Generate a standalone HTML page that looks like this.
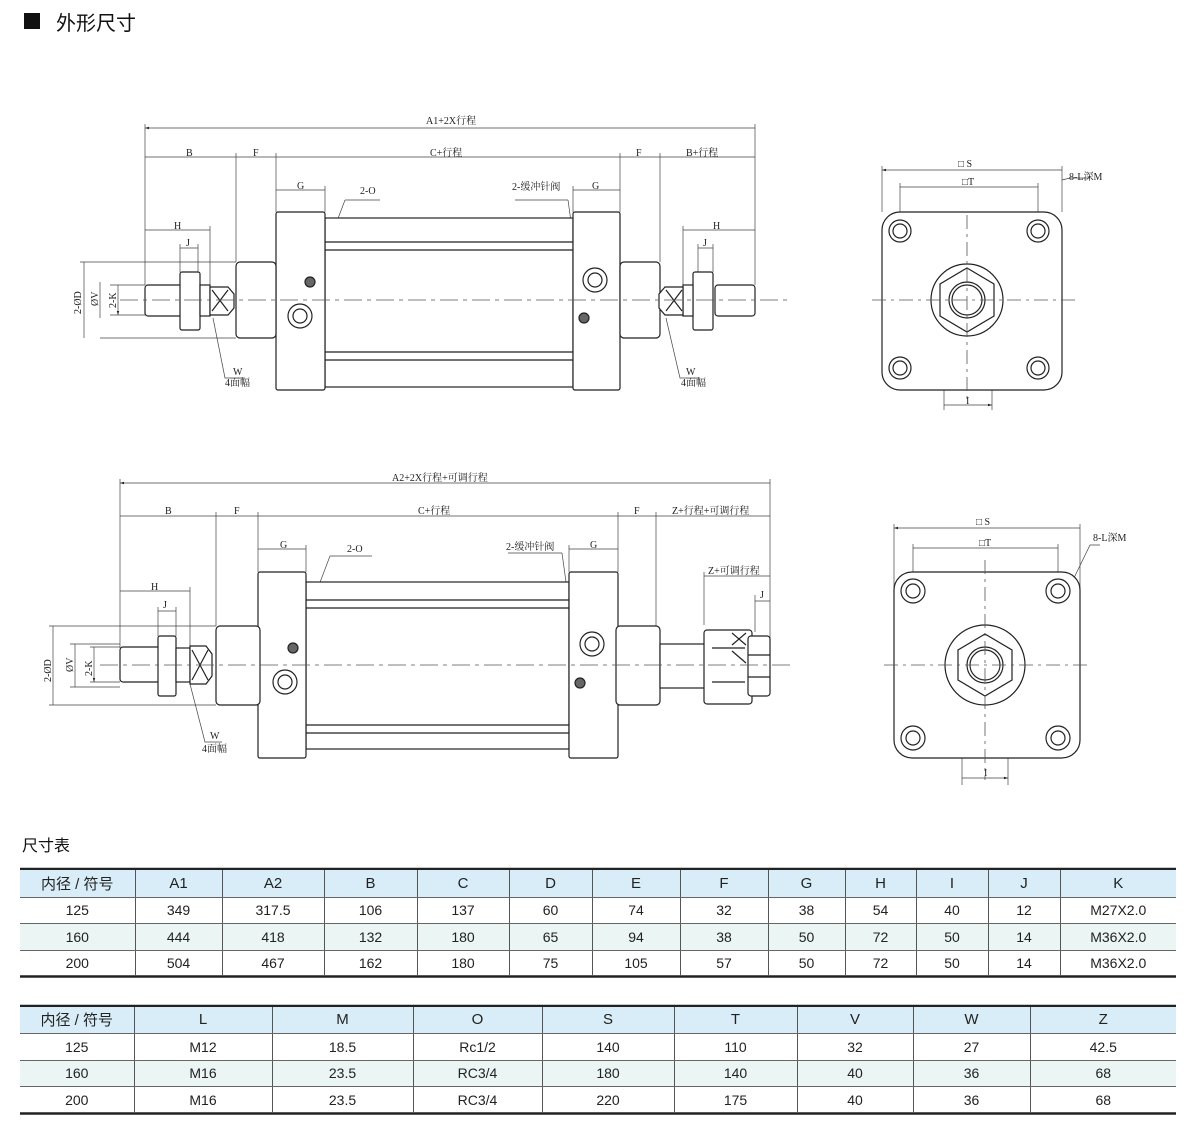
<!DOCTYPE html>
<html><head><meta charset="utf-8"><style>
body{margin:0;background:#fff;}
#wrap{position:relative;width:1200px;height:1148px;overflow:hidden;font-family:"Liberation Sans","Noto Sans CJK SC",sans-serif;}
svg{position:absolute;left:0;top:0;}
.t{position:absolute;border-collapse:collapse;table-layout:fixed;font-size:14px;color:#222;}
.t td{border-left:1px solid #555;border-bottom:1px solid #666;text-align:center;padding:0;}
.t td:first-child{border-left:none;}
.t tr.h td{background:#d8edf8;font-size:15px;}
.t tr.a td{background:#eaf5f4;}
</style></head><body><div id="wrap">
<svg width="1200" height="1148" viewBox="0 0 1200 1148" font-family="Liberation Serif,Noto Serif CJK SC,serif" font-size="10" fill="none" stroke="#222" stroke-width="1">
<defs>
<marker id="a" viewBox="0 0 10 10" refX="10" refY="5" markerWidth="6" markerHeight="6" orient="auto-start-reverse"><path d="M0,2 L10,5 L0,8z" fill="#222" stroke="none"/></marker>
</defs>
<rect x="24" y="13" width="16" height="16" fill="#111" stroke="none"/>
<text x="56" y="30" font-family="Liberation Sans,Noto Sans CJK SC,sans-serif" font-size="20" fill="#111" stroke="none">外形尺寸</text>
<text x="22" y="851" font-family="Liberation Sans,Noto Sans CJK SC,sans-serif" font-size="16" fill="#111" stroke="none">尺寸表</text>

<g stroke-width="0.7" stroke="#444">
<path d="M145,124V285 M755,124V285 M236,153V262 M276,153V212 M620,153V212 M660,153V262 M325,186V212 M573,186V212 M210,226V285 M683,226V285 M180,244V272 M198,244V272 M698,244V272 M713,244V272 M80,262H236 M100,338H236 M110,285H145 M110,315H145"/>
<g marker-start="url(#a)" marker-end="url(#a)">
<path d="M145,128H755 M145,157H236 M236,157H276 M276,157H620 M620,157H660 M660,157H755 M276,190H325 M573,190H620 M145,230H210 M683,230H755 M84,262V338 M100,282V318 M118,285V315"/>
</g>
<path d="M180,248H198 M698,248H713"/>
<path d="M345,200H380 M345,200L302,314 M515,200H568 M568,200L584,316 M213,318L225,378H245 M666,318L680,378H700"/>
</g>
<g fill="#222" stroke="none">
<text x="426" y="124">A1+2X行程</text>
<text x="186" y="156">B</text><text x="253" y="156">F</text><text x="430" y="156">C+行程</text><text x="636" y="156">F</text><text x="686" y="156">B+行程</text>
<text x="297" y="189">G</text><text x="592" y="189">G</text>
<text x="174" y="229">H</text><text x="713" y="229">H</text>
<text x="186" y="246">J</text><text x="703" y="246">J</text>
<text x="360" y="194">2-O</text><text x="512" y="190">2-缓冲针阀</text>
<text x="233" y="375">W</text><text x="225" y="386">4面幅</text>
<text x="686" y="375">W</text><text x="681" y="386">4面幅</text>
<text transform="translate(81,314) rotate(-90)">2-ØD</text>
<text transform="translate(98,306) rotate(-90)">ØV</text>
<text transform="translate(116,308) rotate(-90)">2-K</text>
</g>
<g stroke="#222" stroke-width="1.2" fill="#fff">
<rect x="325" y="218" width="248" height="169"/>
<path d="M325,242H573 M325,250H573 M325,352H573 M325,360H573" fill="none"/>
<rect x="276" y="212" width="49" height="178" rx="2"/>
<rect x="573" y="212" width="47" height="178" rx="2"/>
<rect x="236" y="262" width="40" height="76" rx="4"/>
<rect x="620" y="262" width="40" height="76" rx="4"/>
<rect x="145" y="285" width="38" height="31" rx="3"/>
<rect x="180" y="272" width="20" height="58" rx="2"/>
<rect x="200" y="285" width="10" height="31"/>
<path d="M210,287H228L234,294V308L228,315H210Z"/>
<path d="M212,290L228,311 M228,290L212,311" fill="none"/>
<rect x="715" y="285" width="40" height="31" rx="3"/>
<rect x="693" y="272" width="20" height="58" rx="2"/>
<rect x="683" y="285" width="10" height="31"/>
<path d="M683,287H665L659,294V308L665,315H683Z"/>
<path d="M666,290L682,311 M682,290L666,311" fill="none"/>
<circle cx="300" cy="316" r="12"/><circle cx="300" cy="316" r="7"/>
<circle cx="595" cy="280" r="12"/><circle cx="595" cy="280" r="7"/>
<circle cx="310" cy="282" r="5" fill="#666"/><circle cx="584" cy="318" r="5" fill="#666"/>
</g>
<path d="M120,300H790" stroke="#555" stroke-width="0.8" stroke-dasharray="18,5,4,5"/>

<g stroke-width="0.7" stroke="#444">
<path d="M882,166V212 M1062,166V212 M900,183V222 M1038,183V222 M944,320V410 M992,320V410 M1062,180L1070,178H1090"/>
<g marker-start="url(#a)" marker-end="url(#a)"><path d="M882,170H1062 M900,187H1038 M944,405H992"/></g>
</g>
<g fill="#222" stroke="none"><text x="958" y="167">□ S</text><text x="962" y="185">□T</text><text x="1069" y="180">8-L深M</text><text x="966" y="404">I</text></g>
<g stroke="#222" stroke-width="1.2" fill="#fff">
<rect x="882" y="212" width="180" height="178" rx="18"/>
<circle cx="967" cy="300" r="36"/>
<path d="M967,268L994,284V316L967,332L940,316V284Z"/>
<circle cx="967" cy="300" r="18"/><circle cx="967" cy="300" r="15"/>
<g><circle cx="900" cy="231" r="11"/><circle cx="900" cy="231" r="7"/><circle cx="1038" cy="231" r="11"/><circle cx="1038" cy="231" r="7"/><circle cx="900" cy="368" r="11"/><circle cx="900" cy="368" r="7"/><circle cx="1038" cy="368" r="11"/><circle cx="1038" cy="368" r="7"/></g>
</g>
<path d="M872,300H1076 M967,215V400" stroke="#555" stroke-width="0.8" stroke-dasharray="14,5,3,5"/>

<g stroke-width="0.7" stroke="#444">
<path d="M120,479V648 M770,479V640 M216,512V626 M258,512V572 M618,512V572 M656,512V626 M306,545V572 M569,545V572 M190,587V646 M158,607V636 M176,607V636 M704,572V625 M755,595V632 M49,626H216 M70,644H120 M90,647H120 M49,705H216 M70,687H120 M90,682H120"/>
<g marker-start="url(#a)" marker-end="url(#a)">
<path d="M120,483H770 M120,516H216 M216,516H258 M258,516H618 M618,516H656 M656,516H770 M258,549H306 M569,549H618 M120,591H190 M704,576H770 M53,626V705 M75,644V687 M94,647V682"/>
</g>
<path d="M158,611H176 M755,601H770"/>
<path d="M330,556H372 M330,556L283,680 M508,553H562 M562,553L580,683 M190,684L205,742H222"/>
</g>
<g fill="#222" stroke="none">
<text x="392" y="481">A2+2X行程+可调行程</text>
<text x="165" y="514">B</text><text x="234" y="514">F</text><text x="418" y="514">C+行程</text><text x="634" y="514">F</text><text x="672" y="514">Z+行程+可调行程</text>
<text x="280" y="548">G</text><text x="590" y="548">G</text>
<text x="151" y="590">H</text><text x="163" y="608">J</text><text x="760" y="598">J</text>
<text x="708" y="574">Z+可调行程</text>
<text x="347" y="552">2-O</text><text x="506" y="550">2-缓冲针阀</text>
<text x="210" y="739">W</text><text x="202" y="752">4面幅</text>
<text transform="translate(51,682) rotate(-90)">2-ØD</text>
<text transform="translate(73,672) rotate(-90)">ØV</text>
<text transform="translate(92,676) rotate(-90)">2-K</text>
</g>
<g stroke="#222" stroke-width="1.2" fill="#fff">
<rect x="306" y="582" width="263" height="167"/>
<path d="M306,600H569 M306,608H569 M306,725H569 M306,733H569" fill="none"/>
<rect x="258" y="572" width="48" height="186" rx="2"/>
<rect x="569" y="572" width="49" height="186" rx="2"/>
<rect x="216" y="626" width="44" height="79" rx="4"/>
<rect x="616" y="626" width="44" height="79" rx="4"/>
<rect x="660" y="644" width="45" height="44"/>
<rect x="704" y="630" width="48" height="74" rx="3"/>
<rect x="748" y="636" width="22" height="60" rx="3"/>
<path d="M748,655H770 M748,677H770 M712,648H745 M712,682H745" fill="none"/>
<path d="M732,633L746,645 M746,633L732,645 M732,651L746,663" fill="none"/>
<rect x="120" y="647" width="40" height="35" rx="3"/>
<rect x="158" y="636" width="18" height="60" rx="2"/>
<rect x="176" y="648" width="14" height="34"/>
<path d="M190,646H206L212,654V676L206,684H190Z"/>
<path d="M192,650L208,680 M208,650L192,680" fill="none"/>
<circle cx="285" cy="682" r="12"/><circle cx="285" cy="682" r="7"/>
<circle cx="592" cy="644" r="12"/><circle cx="592" cy="644" r="7"/>
<circle cx="293" cy="648" r="5" fill="#666"/><circle cx="580" cy="683" r="5" fill="#666"/>
</g>
<path d="M100,665H790" stroke="#555" stroke-width="0.8" stroke-dasharray="18,5,4,5"/>

<g stroke-width="0.7" stroke="#444">
<path d="M894,524V590 M1080,524V590 M913,544V580 M1058,544V580 M962,690V785 M1008,690V785 M1072,582L1090,545H1100"/>
<g marker-start="url(#a)" marker-end="url(#a)"><path d="M894,528H1080 M913,548H1058 M962,778H1008"/></g>
</g>
<g fill="#222" stroke="none"><text x="976" y="525">□ S</text><text x="979" y="546">□T</text><text x="1093" y="541">8-L深M</text><text x="984" y="776">I</text></g>
<g stroke="#222" stroke-width="1.2" fill="#fff">
<rect x="894" y="572" width="186" height="186" rx="18"/>
<circle cx="985" cy="665" r="40"/>
<path d="M985,634L1012,650V680L985,696L958,680V650Z"/>
<circle cx="985" cy="665" r="18"/><circle cx="985" cy="665" r="15"/>
<circle cx="913" cy="591" r="12"/><circle cx="913" cy="591" r="7"/><circle cx="1058" cy="591" r="12"/><circle cx="1058" cy="591" r="7"/><circle cx="913" cy="738" r="12"/><circle cx="913" cy="738" r="7"/><circle cx="1058" cy="738" r="12"/><circle cx="1058" cy="738" r="7"/>
</g>
<path d="M884,665H1090 M985,560V780" stroke="#555" stroke-width="0.8" stroke-dasharray="14,5,3,5"/>
<path d="M20,869H1176 M20,976.5H1176 M20,1006H1176 M20,1113.5H1176" stroke="#222" stroke-width="2.5"/>
</svg>

<table class="t" style="left:20px;top:870px;width:1156px;">
<colgroup><col style="width:115px"><col style="width:87px"><col style="width:102px"><col style="width:93px"><col style="width:92px"><col style="width:83px"><col style="width:88px"><col style="width:88px"><col style="width:77px"><col style="width:71px"><col style="width:72px"><col style="width:72px"><col style="width:116px"></colgroup>
<tr class="h" style="height:27px"><td>内径 / 符号</td><td>A1</td><td>A2</td><td>B</td><td>C</td><td>D</td><td>E</td><td>F</td><td>G</td><td>H</td><td>I</td><td>J</td><td>K</td></tr>
<tr style="height:26px"><td>125</td><td>349</td><td>317.5</td><td>106</td><td>137</td><td>60</td><td>74</td><td>32</td><td>38</td><td>54</td><td>40</td><td>12</td><td>M27X2.0</td></tr>
<tr class="a" style="height:27px"><td>160</td><td>444</td><td>418</td><td>132</td><td>180</td><td>65</td><td>94</td><td>38</td><td>50</td><td>72</td><td>50</td><td>14</td><td>M36X2.0</td></tr>
<tr style="height:26px"><td style="border-bottom:none">200</td><td style="border-bottom:none">504</td><td style="border-bottom:none">467</td><td style="border-bottom:none">162</td><td style="border-bottom:none">180</td><td style="border-bottom:none">75</td><td style="border-bottom:none">105</td><td style="border-bottom:none">57</td><td style="border-bottom:none">50</td><td style="border-bottom:none">72</td><td style="border-bottom:none">50</td><td style="border-bottom:none">14</td><td style="border-bottom:none">M36X2.0</td></tr>
</table>

<table class="t" style="left:20px;top:1007px;width:1156px;">
<colgroup><col style="width:114px"><col style="width:138px"><col style="width:141px"><col style="width:129px"><col style="width:132px"><col style="width:123px"><col style="width:116px"><col style="width:117px"><col style="width:146px"></colgroup>
<tr class="h" style="height:26px"><td>内径 / 符号</td><td>L</td><td>M</td><td>O</td><td>S</td><td>T</td><td>V</td><td>W</td><td>Z</td></tr>
<tr style="height:27px"><td>125</td><td>M12</td><td>18.5</td><td>Rc1/2</td><td>140</td><td>110</td><td>32</td><td>27</td><td>42.5</td></tr>
<tr class="a" style="height:26px"><td>160</td><td>M16</td><td>23.5</td><td>RC3/4</td><td>180</td><td>140</td><td>40</td><td>36</td><td>68</td></tr>
<tr style="height:27px"><td style="border-bottom:none">200</td><td style="border-bottom:none">M16</td><td style="border-bottom:none">23.5</td><td style="border-bottom:none">RC3/4</td><td style="border-bottom:none">220</td><td style="border-bottom:none">175</td><td style="border-bottom:none">40</td><td style="border-bottom:none">36</td><td style="border-bottom:none">68</td></tr>
</table>
</div></body></html>
